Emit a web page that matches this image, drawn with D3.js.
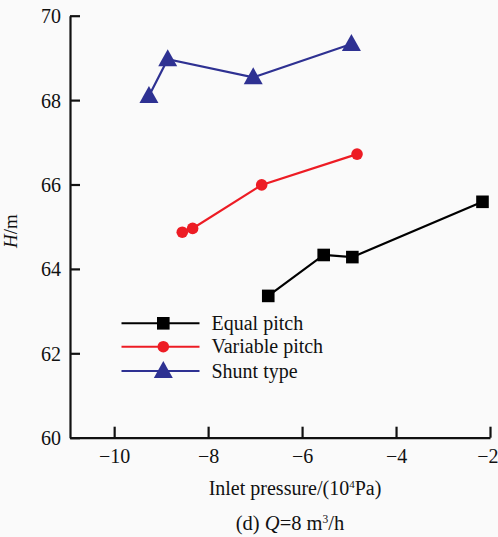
<!DOCTYPE html>
<html>
<head>
<meta charset="utf-8">
<script src="https://cdn.jsdelivr.net/npm/d3@7"></script>
<style>
  html, body { margin: 0; padding: 0; background: #fafafa; }
  svg { display: block; }
  text { font-family: "Liberation Serif", "Times New Roman", serif; fill: #111; }
</style>
</head>
<body>
<svg id="chart" width="498" height="537"></svg>
<script>
const seriesNames = ["Equal pitch", "Variable pitch", "Shunt type"];
const equalX = [-6.72, -5.54, -4.93, -2.16];
const equalH = [63.36, 64.33, 64.28, 65.59];
const variableX = [-8.55, -8.33, -6.86, -4.83];
const variableH = [64.87, 64.96, 65.99, 66.72];
const shuntX = [-9.26, -8.86, -7.04, -4.95];
const shuntH = [68.10, 68.97, 68.54, 69.33];
const xTicks = [-10, -8, -6, -4, -2];
const yTicks = [60, 62, 64, 66, 68, 70];
const colors = ["#000000", "#ed1c24", "#2e3192"];

const svg = d3.select("#chart");
const x = d3.scaleLinear().domain([-10.94, -2]).range([70, 490]);
const y = d3.scaleLinear().domain([60, 70]).range([437.7, 15.7]);

// axes
const xAxis = d3.axisBottom(x).tickValues(xTicks).tickSizeInner(-11).tickSizeOuter(0)
  .tickFormat(d => String(d).replace("-", "\u2212"));
const gx = svg.append("g").attr("transform", `translate(0,${y(60)})`).call(xAxis);
gx.select(".domain").attr("stroke", "#111").attr("stroke-width", 2.2);
gx.selectAll(".tick line").attr("stroke", "#111").attr("stroke-width", 2.2);
gx.selectAll(".tick text").attr("font-size", 20).attr("dy", 0).attr("y", 25)
  .attr("font-family", "Liberation Serif").attr("fill", "#111")
  .each(function(d) {
    if (d === -2) d3.select(this).attr("text-anchor", "end").attr("x", 498 - x(-2));
  });

const yAxis = d3.axisLeft(y).tickValues(yTicks).tickSizeInner(-10).tickSizeOuter(0);
const gy = svg.append("g").attr("transform", `translate(${x(-10.94)},0)`).call(yAxis);
gy.select(".domain").attr("stroke", "#111").attr("stroke-width", 2.2);
gy.selectAll(".tick line").attr("stroke", "#111").attr("stroke-width", 2.2);
gy.selectAll(".tick text").attr("font-size", 20).attr("x", -9).attr("dy", "0.35em")
  .attr("font-family", "Liberation Serif").attr("fill", "#111");

// axis titles
svg.append("text").attr("transform", "translate(17,231) rotate(-90)")
  .attr("text-anchor", "middle").attr("font-size", 19)
  .html('<tspan font-style="italic">H</tspan>/m');

svg.append("text").attr("x", 295).attr("y", 495).attr("text-anchor", "middle").attr("font-size", 20)
  .html('Inlet pressure/(10<tspan dy="-7" font-size="11">4</tspan><tspan dy="7">Pa)</tspan>');

svg.append("text").attr("x", 290).attr("y", 530).attr("text-anchor", "middle").attr("font-size", 20.5)
  .html('(d) <tspan font-style="italic">Q</tspan>=8 m<tspan dy="-7" font-size="11.5">3</tspan><tspan dy="7">/h</tspan>');

// series
const series = [
  {xs: equalX, hs: equalH, shape: "square"},
  {xs: variableX, hs: variableH, shape: "circle"},
  {xs: shuntX, hs: shuntH, shape: "triangle"}
];
const triPath = (cx, cy) => `M${cx},${cy - 10}L${cx + 9.5},${cy + 7}L${cx - 9.5},${cy + 7}Z`;

function drawMarker(g, shape, cx, cy, color) {
  if (shape === "square") {
    g.append("rect").attr("x", cx - 6.3).attr("y", cy - 6.3).attr("width", 12.6).attr("height", 12.6).attr("fill", color);
  } else if (shape === "circle") {
    g.append("circle").attr("cx", cx).attr("cy", cy).attr("r", 5.8).attr("fill", color);
  } else {
    g.append("path").attr("d", triPath(cx, cy)).attr("fill", color);
  }
}

series.forEach((s, i) => {
  const pts = s.xs.map((v, j) => [v, s.hs[j]]);
  const g = svg.append("g");
  g.append("path").datum(pts)
    .attr("d", d3.line().x(d => x(d[0])).y(d => y(d[1])))
    .attr("fill", "none").attr("stroke", colors[i]).attr("stroke-width", 2.2);
  pts.forEach(p => drawMarker(g, s.shape, x(p[0]), y(p[1]), colors[i]));
});

// legend
const legY = [323.3, 346.7, 371];
seriesNames.forEach((name, i) => {
  const g = svg.append("g");
  g.append("line").attr("x1", 121.5).attr("x2", 199.5).attr("y1", legY[i]).attr("y2", legY[i])
    .attr("stroke", colors[i]).attr("stroke-width", 2);
  drawMarker(g, series[i].shape, 163.3, legY[i], colors[i]);
  g.append("text").attr("x", 211.5).attr("y", legY[i]).attr("dy", "0.33em")
    .attr("font-size", 20).text(name);
});
</script>
</body>
</html>
